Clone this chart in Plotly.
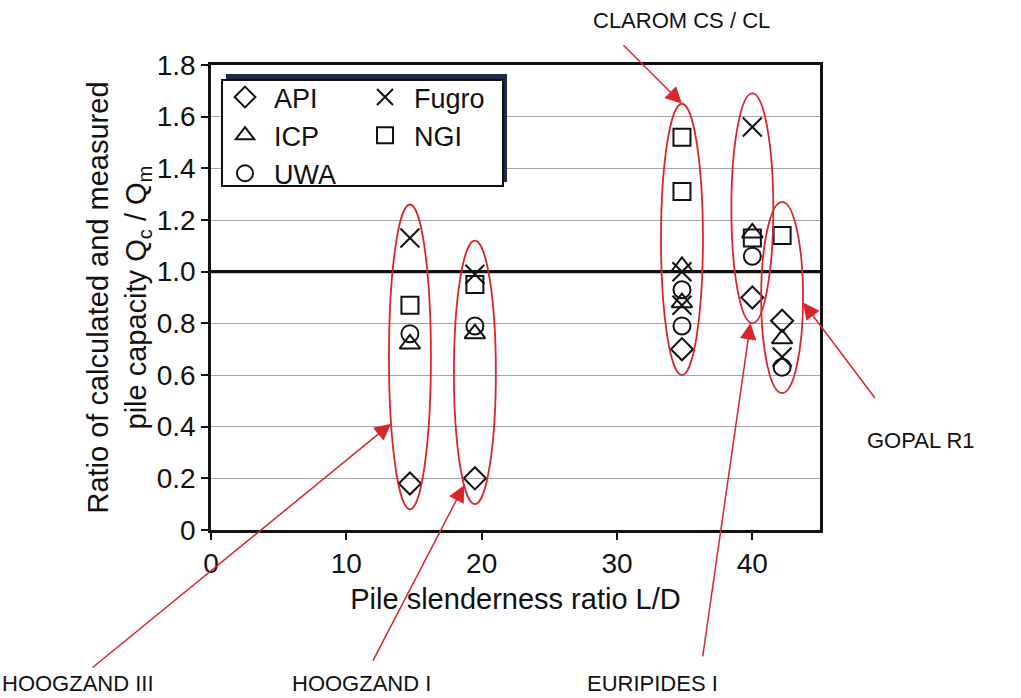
import math
import plotly.graph_objects as go

# --- data -------------------------------------------------------------
site_names = ["HOOGZAND III", "HOOGZAND I", "CLAROM CS", "CLAROM CL", "EURIPIDES I", "GOPAL R1"]
slenderness = [14.7, 19.5, 34.8, 34.8, 40.0, 42.2]

api = [0.18, 0.20, 0.70, None, 0.90, 0.81]
icp = [0.72, 0.76, 1.02, 0.88, 1.15, 0.74]
uwa = [0.76, 0.79, 0.93, 0.79, 1.06, 0.63]
fugro = [1.13, 0.99, 1.00, 0.87, 1.56, 0.67]
ngi = [0.87, 0.95, 1.52, 1.31, 1.13, 1.14]

y_tick_vals = [0, 0.2, 0.4, 0.6, 0.8, 1.0, 1.2, 1.4, 1.6, 1.8]
y_tick_text = ["0", "0.2", "0.4", "0.6", "0.8", "1.0", "1.2", "1.4", "1.6", "1.8"]
x_tick_vals = [0, 10, 20, 30, 40]
x_tick_text = ["0", "10", "20", "30", "40"]

# groups of piles circled on the chart: label, member indices
groups = [
    ("HOOGZAND III", [0]),
    ("HOOGZAND I", [1]),
    ("CLAROM CS / CL", [2, 3]),
    ("EURIPIDES I", [4]),
    ("GOPAL R1", [5]),
]

FONT = "Liberation Sans, Arial, sans-serif"
RED = "#d8262b"
INK = "#111111"

# plot area in pixels
W, H = 1021, 698
L, R, T, B = 211, 201, 65, 168
PW, PH = W - L - R, H - T - B


def px_to_paper(px, py):
    return (px - L) / PW, (H - B - py) / PH


fig = go.Figure()

series = [
    ("API", api, "diamond-open", 17, "legend"),
    ("ICP", icp, "triangle-up-open", 18, "legend"),
    ("UWA", uwa, "circle-open", 17, "legend"),
    ("Fugro", fugro, "x-thin-open", 19, "legend2"),
    ("NGI", ngi, "square-open", 17, "legend2"),
]
for name, vals, sym, size, leg in series:
    fig.add_trace(go.Scatter(
        x=slenderness, y=vals, mode="markers", name=name, legend=leg,
        marker=dict(symbol=sym, size=size, color=INK, line=dict(width=2, color=INK)),
        cliponaxis=False,
    ))

# reference line at ratio 1.0
fig.add_shape(type="line", xref="paper", yref="y", x0=0, x1=1, y0=1.0, y1=1.0,
              line=dict(color=INK, width=3.2), layer="above")

# ellipses round each group of piles
HALF_W = 1.55
PAD_LO, PAD_HI = 0.10, 0.13
ellipses = {}
for label, idx in groups:
    vals = [s[1][i] for s in series for i in idx if s[1][i] is not None]
    cx = sum(slenderness[i] for i in idx) / len(idx)
    y0, y1 = min(vals) - PAD_LO, max(vals) + PAD_HI
    ellipses[label] = (cx, (y0 + y1) / 2, HALF_W, (y1 - y0) / 2)
    fig.add_shape(type="circle", xref="x", yref="y",
                  x0=cx - HALF_W, x1=cx + HALF_W, y0=y0, y1=y1,
                  line=dict(color=RED, width=1.8), layer="above")


def on_ellipse(label, angle_deg):
    cx, cy, a, b = ellipses[label]
    t = math.radians(angle_deg)
    return cx + a * math.cos(t), cy + b * math.sin(t)


# arrows: group, angle on ellipse, tail offset in px
arrows = [
    ("CLAROM CS / CL", 90, -60, -60),
    ("GOPAL R1", -3, 73, 97),
    ("HOOGZAND III", 206, -300, 245),
    ("HOOGZAND I", 239, -92, 177),
    ("EURIPIDES I", 265, -48, 335),
]
for label, ang, ax, ay in arrows:
    hx, hy = on_ellipse(label, ang)
    fig.add_annotation(x=hx, y=hy, xref="x", yref="y", text="", showarrow=True,
                       ax=ax, ay=ay, arrowhead=2, arrowsize=2.2, arrowwidth=1.5,
                       arrowcolor=RED, standoff=0)

# site labels
labels = [
    ("CLAROM CS / CL", 681, 20, "center"),
    ("GOPAL R1", 865, 440, "left"),
    ("HOOGZAND III", 0, 683, "left"),
    ("HOOGZAND I", 290, 683, "left"),
    ("EURIPIDES I", 585, 683, "left"),
]
for text, px, py, anchor in labels:
    xp, yp = px_to_paper(px, py)
    fig.add_annotation(x=xp, y=yp, xref="paper", yref="paper", text=text,
                       showarrow=False, xanchor=anchor, yanchor="middle",
                       font=dict(family=FONT, size=22, color=INK))

# legend frame with offset shadow
sx0, sy0 = px_to_paper(226, 74)
sx1, sy1 = px_to_paper(507, 182)
fig.add_shape(type="rect", xref="paper", yref="paper", x0=sx0, x1=sx1, y0=sy0, y1=sy1,
              fillcolor="#1f2a44", line=dict(width=0), layer="above")
bx0, by0 = px_to_paper(222, 80)
bx1, by1 = px_to_paper(503, 186)
fig.add_shape(type="rect", xref="paper", yref="paper", x0=bx0, x1=bx1, y0=by0, y1=by1,
              fillcolor="white", line=dict(color=INK, width=2), layer="above")

lx1, ly = px_to_paper(216, 73)
lx2, _ = px_to_paper(356, 73)
legend_style = dict(font=dict(family=FONT, size=27, color=INK), bgcolor="rgba(0,0,0,0)",
                    borderwidth=0, xanchor="left", yanchor="top", itemwidth=48,
                    tracegroupgap=0)
fig.update_layout(
    legend=dict(x=lx1, y=ly, **legend_style),
    legend2=dict(x=lx2, y=ly, **legend_style),
)

axis_common = dict(showline=True, linecolor=INK, linewidth=2.5, mirror=True,
                   ticks="outside", ticklen=7, tickwidth=2, tickcolor=INK,
                   tickfont=dict(family=FONT, size=28, color=INK), zeroline=False)

fig.update_xaxes(range=[0, 45], tickvals=x_tick_vals, ticktext=x_tick_text, showgrid=False,
                 title=dict(text="Pile slenderness ratio L/D", standoff=11,
                            font=dict(family=FONT, size=29, color=INK)),
                 **axis_common)
fig.update_yaxes(range=[0, 1.8], tickvals=y_tick_vals, ticktext=y_tick_text,
                 showgrid=True, gridcolor="#a3a3a3", gridwidth=1.3,
                 title=dict(text="Ratio of calculated and measured<br>pile capacity Q<sub>c</sub> / Q<sub>m</sub>",
                            standoff=2, font=dict(family=FONT, size=29, color=INK)),
                 **axis_common)

fig.update_layout(
    width=W, height=H,
    margin=dict(l=L, r=R, t=T, b=B, autoexpand=False),
    paper_bgcolor="white", plot_bgcolor="white",
    showlegend=True,
    font=dict(family=FONT, color=INK),
)

fig.write_html("out.html")
